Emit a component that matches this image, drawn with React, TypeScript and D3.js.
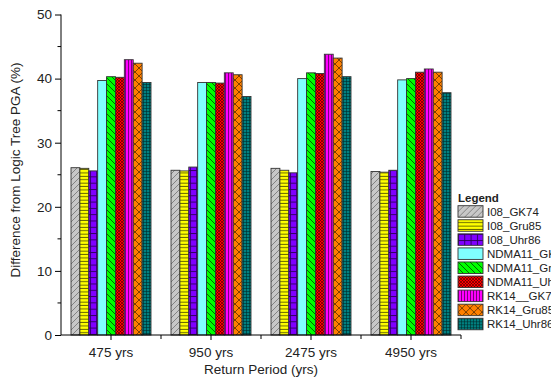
import { useEffect, useRef } from 'react';
import * as d3 from 'd3';

const categories = ['475 yrs', '950 yrs', '2475 yrs', '4950 yrs'];
const seriesNames = [
  'I08_GK74', 'I08_Gru85', 'I08_Uhr86',
  'NDMA11_GK74', 'NDMA11_Gru85', 'NDMA11_Uhr86',
  'RK14__GK74', 'RK14_Gru85', 'RK14_Uhr86',
];

const I08_GK74 = [26.1, 25.7, 26.0, 25.5];
const I08_Gru85 = [26.0, 25.6, 25.7, 25.4];
const I08_Uhr86 = [25.6, 26.2, 25.3, 25.7];
const NDMA11_GK74 = [39.7, 39.4, 40.0, 39.8];
const NDMA11_Gru85 = [40.3, 39.4, 40.9, 40.0];
const NDMA11_Uhr86 = [40.2, 39.3, 40.8, 41.0];
const RK14_GK74 = [42.95, 40.9, 43.8, 41.5];
const RK14_Gru85 = [42.4, 40.6, 43.2, 41.0];
const RK14_Uhr86 = [39.4, 37.2, 40.3, 37.8];

const seriesValues = [
  I08_GK74, I08_Gru85, I08_Uhr86,
  NDMA11_GK74, NDMA11_Gru85, NDMA11_Uhr86,
  RK14_GK74, RK14_Gru85, RK14_Uhr86,
];

const yTicks = [0, 10, 20, 30, 40, 50];

// fill patterns: background, tile size, hatch path, hatch colour
const patterns = [
  { bg: '#c8c8c8', s: 6, d: 'M0,6 L6,0 M-1,1 L1,-1 M5,7 L7,5', c: '#707070', w: 0.8 },
  { bg: '#ffff00', s: 3.4, d: 'M0,2.9 H3.4', c: '#555500', w: 0.9 },
  { bg: '#8000ff', s: 6.3, d: 'M0,0.5 H6.3 M0.5,0 V6.3', c: '#2a0055', w: 0.9 },
  { bg: '#80ffff', s: 6, d: '', c: '#000', w: 0 },
  { bg: '#00ff00', s: 6, d: 'M0,0 L6,6 M-1,5 L1,7 M5,-1 L7,1', c: '#005500', w: 0.9 },
  { bg: '#ff0000', s: 3, d: 'M0,0 L3,3 M3,0 L0,3', c: '#400000', w: 0.6 },
  { bg: '#ff00ff', s: 3, d: 'M0.5,0 V3', c: '#550055', w: 0.8 },
  { bg: '#ff8000', s: 8, d: 'M0,0 L8,8 M8,0 L0,8', c: '#5a2d00', w: 0.8 },
  { bg: '#008080', s: 3, d: 'M0,0.5 H3 M0.5,0 V3', c: '#002a2a', w: 0.6 },
];

const App = () => {
  const ref = useRef<SVGSVGElement>(null);

  useEffect(() => {
    const width = 551;
    const height = 382;
    const left = 61;
    const right = 461;
    const top = 14.5;
    const bottom = 335;
    const font = "'Liberation Sans', Arial, sans-serif";

    const svg = d3.select(ref.current);
    svg.selectAll('*').remove();
    svg.attr('width', width).attr('height', height);

    const defs = svg.append('defs');
    patterns.forEach((p, i) => {
      const pat = defs.append('pattern')
        .attr('id', `pat${i}`)
        .attr('patternUnits', 'userSpaceOnUse')
        .attr('width', p.s)
        .attr('height', p.s);
      pat.append('rect').attr('width', p.s).attr('height', p.s).attr('fill', p.bg);
      if (p.d) {
        pat.append('path').attr('d', p.d).attr('stroke', p.c)
          .attr('stroke-width', p.w).attr('fill', 'none');
      }
    });

    const x = d3.scaleBand<string>()
      .domain(categories)
      .range([left, right])
      .paddingInner(0.2)
      .paddingOuter(0.1);

    const xs = d3.scaleBand<number>()
      .domain(d3.range(seriesNames.length))
      .range([0, x.bandwidth()]);

    const y = d3.scaleLinear().domain([0, 50]).range([bottom, top]);

    // bars
    const groups = svg.append('g')
      .selectAll('g')
      .data(categories)
      .join('g')
      .attr('transform', d => `translate(${x(d)},0)`);

    groups.selectAll('rect')
      .data((_, ci) => seriesValues.map((vals, si) => ({ si, v: vals[ci] })))
      .join('rect')
      .attr('x', d => xs(d.si)!)
      .attr('y', d => y(d.v))
      .attr('width', xs.bandwidth())
      .attr('height', d => y(0) - y(d.v))
      .attr('fill', d => `url(#pat${d.si})`)
      .attr('stroke', '#333')
      .attr('stroke-width', 0.9);

    // y axis
    const yAxis = svg.append('g')
      .attr('transform', `translate(${left},0)`)
      .call(d3.axisLeft(y).tickValues(yTicks).tickSize(6).tickPadding(3).tickFormat(d3.format('d')))
      .call(g => g.select('.domain').attr('d', `M0,${bottom}V${top}`))
      .call(g => g.selectAll('text').attr('font-size', 13.5).attr('font-family', font).attr('fill', '#222'));
    yAxis.selectAll('.minor')
      .data(d3.range(5, 50, 10))
      .join('line')
      .attr('class', 'minor')
      .attr('x1', -3.5).attr('x2', 0)
      .attr('y1', d => y(d)).attr('y2', d => y(d))
      .attr('stroke', '#000');

    // x axis
    const xAxis = svg.append('g')
      .attr('transform', `translate(0,${bottom})`)
      .call(d3.axisBottom(x).tickSize(5).tickPadding(7))
      .call(g => g.select('.domain').attr('d', `M${left},0H${right}`))
      .call(g => g.selectAll('text').attr('font-size', 13.5).attr('font-family', font).attr('fill', '#222'));
    xAxis.selectAll('.minor')
      .data(d3.range(1, categories.length + 1))
      .join('line')
      .attr('class', 'minor')
      .attr('x1', i => left + x.step() * i).attr('x2', i => left + x.step() * i)
      .attr('y1', 0).attr('y2', 4)
      .attr('stroke', '#000');

    // axis titles
    svg.append('text')
      .attr('x', (left + right) / 2)
      .attr('y', 374)
      .attr('text-anchor', 'middle')
      .attr('font-family', font)
      .attr('font-size', 13.5)
      .attr('fill', '#222')
      .text('Return Period (yrs)');

    svg.append('text')
      .attr('transform', `translate(20,170) rotate(-90)`)
      .attr('text-anchor', 'middle')
      .attr('font-family', font)
      .attr('font-size', 13.5)
      .attr('fill', '#222')
      .text('Difference from Logic Tree PGA (%)');

    // legend
    const lg = svg.append('g').attr('transform', 'translate(458,0)');
    lg.append('text')
      .attr('x', 0).attr('y', 201.5)
      .attr('font-family', font)
      .attr('font-size', 11.5)
      .attr('font-weight', 'bold')
      .attr('fill', '#222')
      .text('Legend');
    const items = lg.selectAll('g.item')
      .data(seriesNames)
      .join('g')
      .attr('class', 'item')
      .attr('transform', (_, i) => `translate(0,${205.7 + i * 14.07})`);
    items.append('rect')
      .attr('width', 25).attr('height', 11.5)
      .attr('fill', (_, i) => `url(#pat${i})`)
      .attr('stroke', '#333').attr('stroke-width', 0.9);
    items.append('text')
      .attr('x', 29).attr('y', 10)
      .attr('font-family', font)
      .attr('font-size', 11.5)
      .attr('fill', '#222')
      .text(d => d);
  }, []);

  return <svg ref={ref} style={{ position: 'absolute', left: 0, top: 0, background: '#fff' }} />;
};

export default App;
